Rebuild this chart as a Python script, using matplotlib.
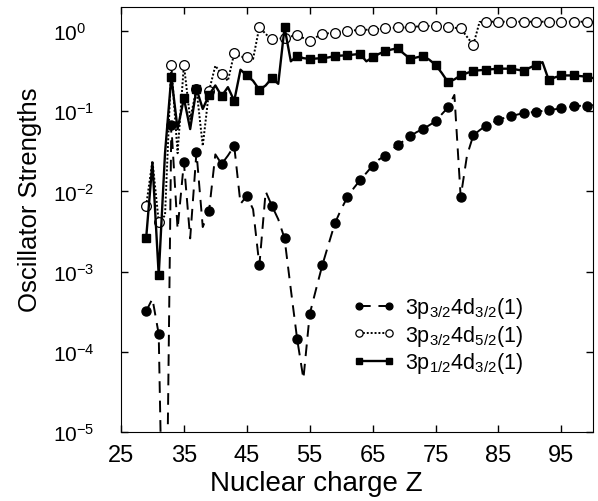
import numpy as np
import matplotlib
matplotlib.use("Agg")
import matplotlib.pyplot as plt
from matplotlib.lines import Line2D
from matplotlib.ticker import LogLocator, NullLocator, FixedLocator

plt.rcParams['font.family'] = ['Liberation Sans', 'DejaVu Sans']
plt.rcParams['mathtext.fontset'] = 'custom'
plt.rcParams['mathtext.rm'] = 'Liberation Sans'
plt.rcParams['mathtext.it'] = 'Liberation Sans:italic'
plt.rcParams['mathtext.bf'] = 'Liberation Sans:bold'

# nuclear charge Z = 29 .. 100
Z = np.arange(29, 101)

# 3p3/2 4d3/2 (1)
f_a = [3.2e-4, 4.6e-4, 1.66e-4, 1e-8, 0.067, 0.0034, 0.023, 0.0026, 0.031, 0.0036,
       0.0057, 0.029, 0.022, 0.028, 0.037, 0.007, 0.0088, 0.006, 0.0012, 0.010,
       0.0066, 0.0045, 0.0026, 6e-4, 1.45e-4, 4.6e-5, 2.95e-4, 6e-4, 1.2e-3, 2.2e-3,
       4.0e-3, 6.0e-3, 8.5e-3, 0.011, 0.0138, 0.017, 0.021, 0.025, 0.028, 0.033,
       0.038, 0.043, 0.049, 0.055, 0.060, 0.067, 0.075, 0.092, 0.112, 0.16,
       0.0085, 0.028, 0.050, 0.058, 0.066, 0.072, 0.078, 0.083, 0.087, 0.091,
       0.095, 0.097, 0.098, 0.101, 0.104, 0.106, 0.109, 0.112, 0.116, 0.117,
       0.117, 0.12]

# 3p3/2 4d5/2 (1)
f_b = [0.0066, 0.024, 0.0042, 0.005, 0.38, 0.03, 0.38, 0.08, 0.19, 0.037,
       0.18, 0.37, 0.29, 0.24, 0.53, 0.48, 0.47, 0.45, 1.13, 0.92,
       0.79, 0.80, 0.83, 0.86, 0.89, 0.82, 0.76, 0.84, 0.92, 0.94,
       0.96, 0.99, 1.01, 1.02, 1.04, 1.04, 1.04, 1.06, 1.08, 1.10,
       1.11, 1.11, 1.11, 1.14, 1.16, 1.16, 1.16, 1.14, 1.12, 1.10,
       1.08, 0.85, 0.67, 1.30, 1.31, 1.31, 1.31, 1.31, 1.31, 1.31,
       1.31, 1.31, 1.31, 1.31, 1.31, 1.31, 1.31, 1.31, 1.31, 1.31,
       1.31, 1.31]

# 3p1/2 4d3/2 (1)
f_c = [0.0026, 0.023, 0.0009, 0.03, 0.27, 0.06, 0.145, 0.06, 0.19, 0.107,
       0.16, 0.21, 0.155, 0.2, 0.135, 0.33, 0.28, 0.24, 0.185, 0.21,
       0.26, 0.22, 1.11, 0.42, 0.49, 0.46, 0.45, 0.455, 0.46, 0.47,
       0.49, 0.495, 0.50, 0.51, 0.52, 0.42, 0.47, 0.52, 0.56, 0.59,
       0.61, 0.52, 0.45, 0.47, 0.49, 0.44, 0.38, 0.30, 0.23, 0.25,
       0.28, 0.30, 0.32, 0.325, 0.33, 0.335, 0.34, 0.34, 0.34, 0.33,
       0.32, 0.35, 0.38, 0.41, 0.245, 0.265, 0.28, 0.28, 0.28, 0.275,
       0.27, 0.26]

x_ticks = [25, 35, 45, 55, 65, 75, 85, 95]

labels = [r'3p$_{3/2}$4d$_{3/2}$(1)',
          r'3p$_{3/2}$4d$_{5/2}$(1)',
          r'3p$_{1/2}$4d$_{3/2}$(1)']

styles = [dict(color='black', lw=1.4, dashes=(6, 4), marker='o', ms=6.5,
               mfc='black', mec='black'),
          dict(color='black', lw=1.4, ls=(0, (1, 1)), marker='o', ms=7,
               mfc='white', mec='black', mew=0.9),
          dict(color='black', lw=1.7, ls='-', marker='s', ms=6,
               mfc='black', mec='black')]

fig = plt.figure(figsize=(5.98, 5.02), dpi=100)
ax = fig.add_axes([0.2023, 0.1375, 0.789, 0.8466])

for f, st in zip([f_a, f_b, f_c], styles):
    ax.plot(Z, f, markevery=(0, 2), **st)

ax.set_yscale('log')
ax.set_xlim(25, 100)
ax.set_ylim(1e-5, 2.0)
ax.xaxis.set_major_locator(FixedLocator(x_ticks))
ax.xaxis.set_minor_locator(NullLocator())
ax.yaxis.set_major_locator(LogLocator(base=10, numticks=10))
ax.yaxis.set_minor_locator(NullLocator())

ax.tick_params(axis='both', which='major', direction='in', length=5, width=1,
               top=True, right=True)
ax.tick_params(axis='x', labelsize=17, pad=9)
ax.tick_params(axis='y', labelsize=15, pad=49)
for lab in ax.get_yticklabels():
    lab.set_horizontalalignment('left')

ax.set_xlabel('Nuclear charge Z', fontsize=20)
ax.set_ylabel('Oscillator Strengths', fontsize=18.5)
ax.xaxis.set_label_coords(0.413, -0.09)
ax.yaxis.set_label_coords(-0.167, 0.548)

handles = [Line2D([], [], **st) for st in styles]
leg = ax.legend(handles, labels, loc='upper left', bbox_to_anchor=(0.49, 0.322),
                frameon=False, fontsize=15.5, numpoints=2, handlelength=2.0,
                handletextpad=0.45, labelspacing=0.12, markerscale=0.75,
                borderpad=0.0, borderaxespad=0.0)

fig.savefig('out.png', dpi=100)
